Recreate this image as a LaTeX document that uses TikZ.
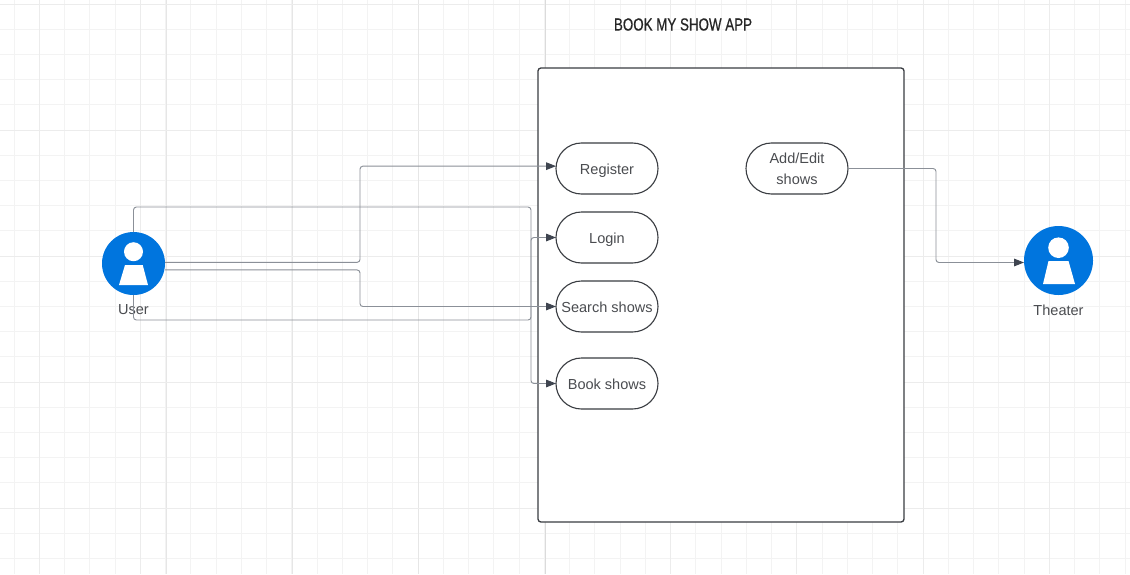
\documentclass[tikz,border=0pt]{standalone}
\usepackage{fontspec}
\setmainfont{Liberation Sans}
\newfontfamily\titlefont[FakeStretch=0.76,FakeBold=0.6]{Liberation Sans}
\usetikzlibrary{arrows.meta,calc,positioning,shapes.misc}
\definecolor{AppBlue}{HTML}{0075DE}
\definecolor{AppInk}{HTML}{3A3D42}
\definecolor{AppText}{HTML}{4A4C50}
\definecolor{AppLink}{HTML}{8B9098}
\definecolor{AppTip}{HTML}{3F4550}
\definecolor{GridMinor}{HTML}{F3F3F3}
\definecolor{GridMid}{HTML}{ECECEC}
\definecolor{GridMajor}{HTML}{E6E6E6}
\tikzset{
  pill/.style={rounded rectangle,draw=AppInk,fill=white,line width=.95pt,minimum width=3.06cm,minimum height=1.53cm,align=center,inner sep=0pt,outer sep=0pt,text=AppText},
  pilltext/.style={text height=10.5pt,text depth=0pt},
  actor/.style={circle,fill=AppBlue,inner sep=0pt,outer sep=0pt},
  actorlabel/.style={text=AppText,inner sep=0pt},
  link/.style={draw=AppLink,line width=.8pt,rounded corners=2.5pt},
  arrowlink/.style={link,-{Triangle[length=8.5pt,width=6.5pt,color=AppTip]}},
}
\begin{document}
\begin{tikzpicture}[x=.03cm,y=-.03cm,font=\fontsize{12.4}{14}\selectfont]
  \useasboundingbox (0,0) rectangle (1130,574);
  \fill[white] (0,0) rectangle (1130,574);
  \foreach \k in {0,...,44} {
    \draw[GridMinor,line width=.85pt] ({14+25.25*\k},0)--({14+25.25*\k},574);
  }
  \foreach \k in {0,...,22} {
    \draw[GridMinor,line width=.85pt] (0,{4+25.2*\k})--(1130,{4+25.2*\k});
  }
  \foreach \k in {1,5,26,31,36,41} {
    \draw[GridMid,line width=.85pt] ({14+25.25*\k},0)--({14+25.25*\k},574);
  }
  \foreach \k in {6,11,16} {
    \draw[GridMajor,line width=.85pt] ({14.5+25.25*\k},0)--({14.5+25.25*\k},574);
  }
  \foreach \y in {4,130,256,382.5,508} {
    \draw[GridMid,line width=.85pt] (0,\y)--(1130,\y);
  }
  \draw[black!14,line width=.85pt] (545,0)--(545,574);

  \node[font=\titlefont\fontsize{15}{17}\selectfont,text=black!85] (title) at (683,24.5) {BOOK MY SHOW APP};
  \draw[AppInk,line width=1.1pt,fill=white,rounded corners=2.5pt] (538,68) rectangle (904,522);

  \node[pill,pilltext] (register) at (607,168.5) {Register};
  \node[pill,pilltext] (login) at (607,237.5) {Login};
  \node[pill,pilltext] (search) at (607,306.5) {Search shows};
  \node[pill,pilltext] (book) at (607,383.5) {Book shows};
  \node[pill] (addedit) at (797,168.5) {Add/Edit\\[3.6pt]shows};

  \coordinate (regbend) at (360,220);
  \coordinate (searchbend) at (360,290);
  \coordinate (bookbend) at (531,207);
  \coordinate (loginbend) at (531,320);
  \coordinate (theaterbend) at (936,215);

  \node[actor,minimum size=1.89cm] (user) at (133.5,263.5) {};
  \fill[white] (133.5,251.7) circle (9.5);
  \fill[white] (125,265)--(142.7,265)--(148,285)--(119,285)--cycle;
  \node[actorlabel] (userlabel) at (133.5,309.5) {User};

  \node[actor,minimum size=2.07cm] (theater) at (1058.5,260.5) {};
  \fill[white] (1058.5,247.7) circle (10.3);
  \fill[white] (1048.5,261)--(1068.5,261)--(1075,284)--(1043,284)--cycle;
  \node[actorlabel] (theaterlabel) at (1058.5,310) {Theater};

  \draw[arrowlink] ([yshift=1pt]user.east) -| (regbend) |- ([yshift=2pt]register.west);
  \draw[arrowlink] ([yshift=-5.5pt]user.east) -| (searchbend) |- (search.west);
  \draw[arrowlink] (user.north) |- (bookbend) |- (book.west);
  \draw[arrowlink] (user.south) |- (loginbend) |- (login.west);
  \draw[arrowlink] (addedit.east) -| (theaterbend) |- ([yshift=-1.7pt]theater.west);
\end{tikzpicture}
\end{document}
